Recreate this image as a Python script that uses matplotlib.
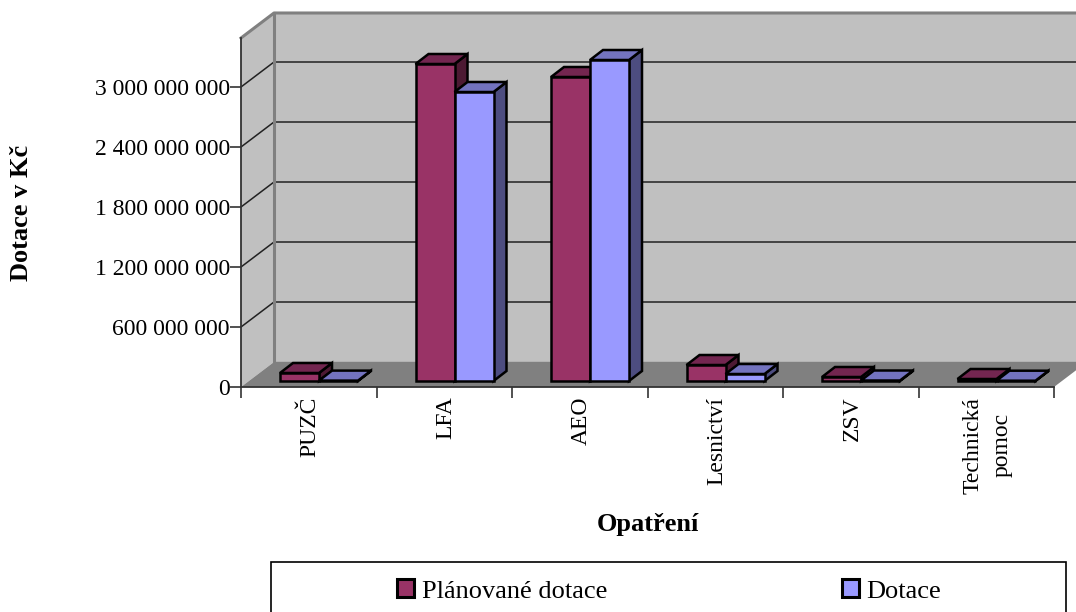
import matplotlib
matplotlib.use('Agg')
import matplotlib.pyplot as plt
from matplotlib.patches import Polygon, Rectangle

plt.rcParams['font.family'] = ['Liberation Serif', 'DejaVu Serif']

categories = ['PUZČ', 'LFA', 'AEO', 'Lesnictví', 'ZSV', 'Technická\npomoc']
planovane = [80e6, 3170e6, 3040e6, 160e6, 40e6, 20e6]
dotace = [4e6, 2890e6, 3210e6, 70e6, 5e6, 3e6]
yticks = [0, 600e6, 1200e6, 1800e6, 2400e6, 3000e6]
ytick_labels = ['0', '600 000 000', '1 200 000 000', '1 800 000 000', '2 400 000 000', '3 000 000 000']

W, H = 1076, 612
fig = plt.figure(figsize=(W / 100, H / 100), dpi=100)
ax = fig.add_axes([241 / W, (H - 387) / H, 813 / W, 349 / H])
ymax = 3490e6
ax.set_xlim(0, 6)
ax.set_ylim(0, ymax)

# one pixel in data units, the 3d look is faked with these
px = 6 / 813
py = ymax / 349
wall_dx, wall_dy = 33 * px, 25 * py
bar_dx, bar_dy = 13 * px, 10 * py
bar_w = 39 * px
bar_x0 = 39 * px
bar_base = 6 * py


def poly(pts, fc, ec='none', lw=0, z=1):
    ax.add_patch(Polygon(pts, closed=True, facecolor=fc, edgecolor=ec, linewidth=lw,
                         zorder=z, clip_on=False, joinstyle='miter'))


# walls and floor
poly([(0, 0), (wall_dx, wall_dy), (wall_dx, ymax + wall_dy), (0, ymax)], '#c0c0c0', z=0.1)
poly([(wall_dx, wall_dy), (6 + wall_dx, wall_dy), (6 + wall_dx, ymax + wall_dy), (wall_dx, ymax + wall_dy)], '#c0c0c0', z=0.1)
poly([(0, 0), (6, 0), (6 + wall_dx, wall_dy), (wall_dx, wall_dy)], '#808080', z=0.2)

# gridlines, back wall + side wall
for t in yticks[1:]:
    ax.plot([0, wall_dx, 6 + wall_dx], [t, t + wall_dy, t + wall_dy], color='#222222', lw=1.1, zorder=0.3, clip_on=False)

# wall outline
ax.plot([0, wall_dx, 6 + wall_dx], [ymax, ymax + wall_dy, ymax + wall_dy], color='#808080', lw=2.2, zorder=0.4, clip_on=False)
ax.plot([wall_dx, wall_dx], [wall_dy, ymax + wall_dy], color='#808080', lw=2.2, zorder=0.4, clip_on=False)
ax.plot([wall_dx, 6 + wall_dx], [wall_dy, wall_dy], color='#808080', lw=1.0, zorder=0.4, clip_on=False)


def bar3d(x, v, front, top, side, z, label=None):
    y1 = v + bar_base
    poly([(x + bar_w, bar_base), (x + bar_w + bar_dx, bar_base + bar_dy),
          (x + bar_w + bar_dx, y1 + bar_dy), (x + bar_w, y1)], side, 'black', 1.8, z)
    poly([(x, y1), (x + bar_dx, y1 + bar_dy), (x + bar_w + bar_dx, y1 + bar_dy), (x + bar_w, y1)],
         top, 'black', 1.8, z)
    return ax.bar(x, v, bar_w, bottom=bar_base, align='edge', color=front, edgecolor='black',
                  linewidth=1.8, zorder=z, clip_on=False, label=label)


for i in range(len(categories)):
    x = i + bar_x0
    bar3d(x, planovane[i], '#993366', '#732650', '#4d1a33', 1 + i,
          'Plánované dotace' if i == 0 else None)
    bar3d(x + bar_w, dotace[i], '#9999ff', '#7373bf', '#4d4d80', 1.5 + i,
          'Dotace' if i == 0 else None)

# axes
for s in ['top', 'right']:
    ax.spines[s].set_visible(False)
for s in ['left', 'bottom']:
    ax.spines[s].set_color('#333333')
    ax.spines[s].set_linewidth(1.3)
    ax.spines[s].set_zorder(0.5)

ax.set_yticks(yticks)
ax.set_yticklabels(ytick_labels)
ax.set_xticks(range(7))
ax.set_xticklabels([])
ax.set_xticks([i + 0.5 + 1.5 * px for i in range(6)], minor=True)
ax.set_xticklabels(categories, minor=True, rotation=90, ha='center', va='top', linespacing=1.5, fontsize=17)
ax.tick_params(axis='x', which='minor', length=0, pad=7)
ax.tick_params(axis='x', which='major', pad=0)
ax.tick_params(axis='both', which='major', length=8, width=1.2, color='#333333', labelsize=17)
ax.tick_params(axis='y', which='major', pad=0)

fig.text(22 / W, 1 - 213 / H, 'Dotace v Kč', rotation=90, ha='center', va='center', fontsize=19, fontweight='bold')
fig.text(648 / W, 1 - 525 / H, 'Opatření', ha='center', va='center', fontsize=19, fontweight='bold')

# legend box runs off the bottom of the image
fig.add_artist(Rectangle((271 / W, -0.02), 795 / W, 0.02 + (H - 562) / H, transform=fig.transFigure,
                         facecolor='white', edgecolor='black', linewidth=1.2))
handles, labels = ax.get_legend_handles_labels()
leg = fig.legend(handles, labels, ncol=2, loc='center left', bbox_to_anchor=(397 / W, 1 - 591 / H), frameon=False,
                 fontsize=19, handlelength=0.66, handleheight=0.66, handletextpad=0.27, columnspacing=8.9,
                 borderpad=0, borderaxespad=0)
for h in leg.legend_handles:
    h.set_linewidth(2.2)

fig.savefig('out.png', dpi=100)
